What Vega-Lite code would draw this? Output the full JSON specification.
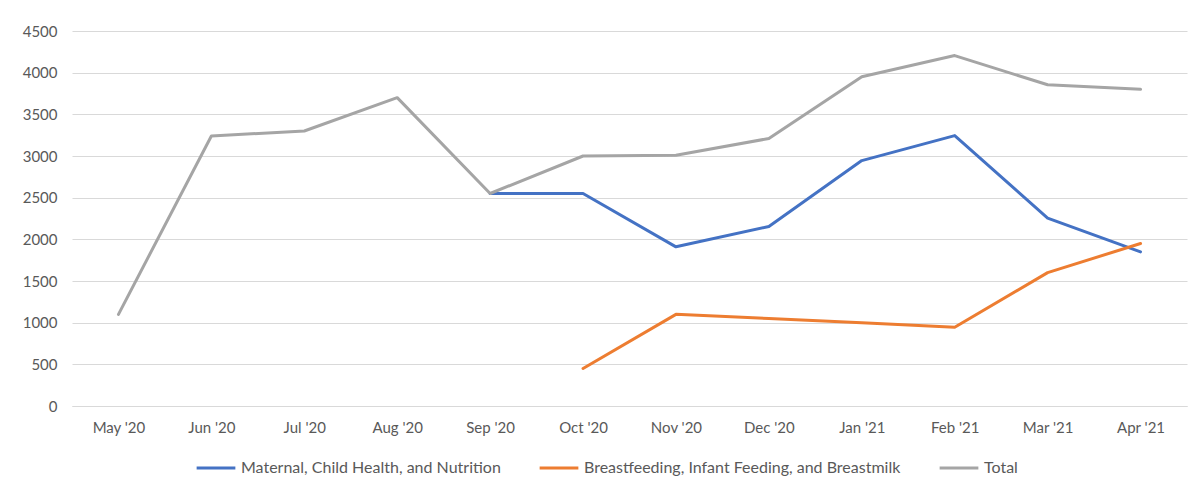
{
  "$schema": "https://vega.github.io/schema/vega-lite/v6.json",
  "width": 1115,
  "height": 375,
  "autosize": {"type": "none"},
  "padding": {"left": 72, "top": 31, "right": 9, "bottom": 83},
  "background": "white",
  "config": {
    "font": "Lato",
    "view": {"stroke": null},
    "axis": {"labelFont": "Lato", "labelColor": "#595959", "labelFontSize": 15, "title": null, "ticks": false, "tickSize": 0},
    "legend": {"labelFont": "Lato", "labelColor": "#595959", "labelFontSize": 16}
  },
  "data": {
    "values": [
      {"month": "May '20", "series": "Total", "value": 1100},
      {"month": "Jun '20", "series": "Total", "value": 3240},
      {"month": "Jul '20", "series": "Total", "value": 3300},
      {"month": "Aug '20", "series": "Total", "value": 3700},
      {"month": "Sep '20", "series": "Total", "value": 2550},
      {"month": "Oct '20", "series": "Total", "value": 3000},
      {"month": "Nov '20", "series": "Total", "value": 3010},
      {"month": "Dec '20", "series": "Total", "value": 3210},
      {"month": "Jan '21", "series": "Total", "value": 3950},
      {"month": "Feb '21", "series": "Total", "value": 4205},
      {"month": "Mar '21", "series": "Total", "value": 3855},
      {"month": "Apr '21", "series": "Total", "value": 3800},
      {"month": "Sep '20", "series": "Maternal, Child Health, and Nutrition", "value": 2550},
      {"month": "Oct '20", "series": "Maternal, Child Health, and Nutrition", "value": 2550},
      {"month": "Nov '20", "series": "Maternal, Child Health, and Nutrition", "value": 1910},
      {"month": "Dec '20", "series": "Maternal, Child Health, and Nutrition", "value": 2155},
      {"month": "Jan '21", "series": "Maternal, Child Health, and Nutrition", "value": 2945},
      {"month": "Feb '21", "series": "Maternal, Child Health, and Nutrition", "value": 3245},
      {"month": "Mar '21", "series": "Maternal, Child Health, and Nutrition", "value": 2255},
      {"month": "Apr '21", "series": "Maternal, Child Health, and Nutrition", "value": 1850},
      {"month": "Oct '20", "series": "Breastfeeding, Infant Feeding, and Breastmilk", "value": 450},
      {"month": "Nov '20", "series": "Breastfeeding, Infant Feeding, and Breastmilk", "value": 1100},
      {"month": "Dec '20", "series": "Breastfeeding, Infant Feeding, and Breastmilk", "value": 1050},
      {"month": "Jan '21", "series": "Breastfeeding, Infant Feeding, and Breastmilk", "value": 1000},
      {"month": "Feb '21", "series": "Breastfeeding, Infant Feeding, and Breastmilk", "value": 945},
      {"month": "Mar '21", "series": "Breastfeeding, Infant Feeding, and Breastmilk", "value": 1600},
      {"month": "Apr '21", "series": "Breastfeeding, Infant Feeding, and Breastmilk", "value": 1950}
    ]
  },
  "encoding": {
    "x": {
      "field": "month", "type": "ordinal",
      "sort": ["May '20", "Jun '20", "Jul '20", "Aug '20", "Sep '20", "Oct '20", "Nov '20", "Dec '20", "Jan '21", "Feb '21", "Mar '21", "Apr '21"],
      "scale": {"type": "point", "padding": 0.5},
      "axis": {"labelAngle": 0, "labelPadding": 14, "domain": true, "domainColor": "#d9d9d9", "domainWidth": 1, "grid": false}
    },
    "y": {
      "field": "value", "type": "quantitative",
      "scale": {"domain": [0, 4500], "nice": false},
      "axis": {"values": [0, 500, 1000, 1500, 2000, 2500, 3000, 3500, 4000, 4500], "format": "d", "domain": false, "grid": true, "gridColor": "#d9d9d9", "gridWidth": 1, "labelPadding": 15}
    },
    "color": {
      "field": "series", "type": "nominal",
      "scale": {
        "domain": ["Maternal, Child Health, and Nutrition", "Breastfeeding, Infant Feeding, and Breastmilk", "Total"],
        "range": ["#4472C4", "#ED7D31", "#A5A5A5"]
      },
      "legend": {
        "title": null, "orient": "none", "direction": "horizontal",
        "legendX": 123, "legendY": 416,
        "symbolType": "stroke", "symbolSize": 1500, "symbolStrokeWidth": 3,
        "labelOffset": 4, "columnPadding": 32, "labelLimit": 0
      }
    }
  },
  "layer": [
    {"transform": [{"filter": "datum.series === 'Maternal, Child Health, and Nutrition'"}], "mark": {"type": "line", "strokeWidth": 3, "strokeJoin": "round", "strokeCap": "round"}},
    {"transform": [{"filter": "datum.series === 'Breastfeeding, Infant Feeding, and Breastmilk'"}], "mark": {"type": "line", "strokeWidth": 3, "strokeJoin": "round", "strokeCap": "round"}},
    {"transform": [{"filter": "datum.series === 'Total'"}], "mark": {"type": "line", "strokeWidth": 3, "strokeJoin": "round", "strokeCap": "round"}}
  ]
}
